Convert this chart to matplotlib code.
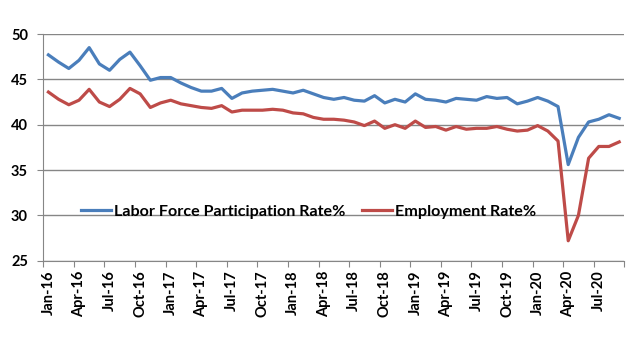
import matplotlib
matplotlib.use("Agg")
import matplotlib.pyplot as plt
import numpy as np
import pandas as pd

plt.rcParams['font.family'] = ['Lato', 'DejaVu Sans']

# monthly values, Jan-16 .. Sep-20
months = pd.date_range("2016-01-01", periods=57, freq="MS").strftime("%b-%y").tolist()

labor_force = [
    47.7, 46.9, 46.2, 47.1, 48.5, 46.7, 46.0, 47.2, 48.0, 46.5, 44.9, 45.2,
    45.2, 44.6, 44.1, 43.7, 43.7, 44.0, 42.9, 43.5, 43.7, 43.8, 43.9, 43.7,
    43.5, 43.8, 43.4, 43.0, 42.8, 43.0, 42.7, 42.6, 43.2, 42.4, 42.8, 42.5,
    43.4, 42.8, 42.7, 42.5, 42.9, 42.8, 42.7, 43.1, 42.9, 43.0, 42.3, 42.6,
    43.0, 42.6, 42.0, 35.6, 38.6, 40.3, 40.6, 41.1, 40.7,
]
employment = [
    43.6, 42.8, 42.2, 42.7, 43.9, 42.5, 42.0, 42.8, 44.0, 43.4, 41.9, 42.4,
    42.7, 42.3, 42.1, 41.9, 41.8, 42.1, 41.4, 41.6, 41.6, 41.6, 41.7, 41.6,
    41.3, 41.2, 40.8, 40.6, 40.6, 40.5, 40.3, 39.9, 40.4, 39.6, 40.0, 39.6,
    40.4, 39.7, 39.8, 39.4, 39.8, 39.5, 39.6, 39.6, 39.8, 39.5, 39.3, 39.4,
    39.9, 39.3, 38.2, 27.2, 30.0, 36.3, 37.6, 37.6, 38.1,
]

blue = "#4A7EBB"
red = "#BE4B48"
grid_col = "#868686"

fig = plt.figure(figsize=(6.38, 3.45), dpi=100)
ax = fig.add_axes([0.0679, 0.2443, 0.9106, 0.6571])

x = np.arange(len(months)) + 0.5
ax.plot(x, labor_force, color=blue, lw=2.3, label="Labor Force Participation Rate%")
ax.plot(x, employment, color=red, lw=2.3, label="Employment Rate%")

ax.set_xlim(0, 57)
ax.set_ylim(25, 50)
ax.set_yticks(np.arange(25, 51, 5))
ax.yaxis.grid(True, color=grid_col, lw=1)
ax.set_axisbelow(True)

# tick marks between categories, labels under the points
ax.set_xticks(np.arange(0, 58, 3))
ax.set_xticklabels([])
ax.set_xticks(x[::3], minor=True)
ax.set_xticklabels(months[::3], minor=True, rotation=90, fontsize=10.5, fontweight="bold")
ax.tick_params(axis="x", which="major", length=4, color=grid_col, direction="out")
ax.tick_params(axis="x", which="minor", length=0, pad=7)
ax.tick_params(axis="y", length=4, color=grid_col, pad=7, labelsize=10.5)
for t in ax.get_yticklabels():
    t.set_fontweight("bold")

for s in ["top", "right"]:
    ax.spines[s].set_visible(False)
ax.spines["left"].set_color(grid_col)
ax.spines["bottom"].set_color(grid_col)

ax.legend(loc="center left", bbox_to_anchor=(0.065, 0.216), ncol=2, frameon=False,
          prop={"size": 11.6, "weight": "bold"}, handlelength=1.86, handletextpad=0.2,
          columnspacing=1.0, borderpad=0, borderaxespad=0)

fig.savefig("out.png", dpi=100)
